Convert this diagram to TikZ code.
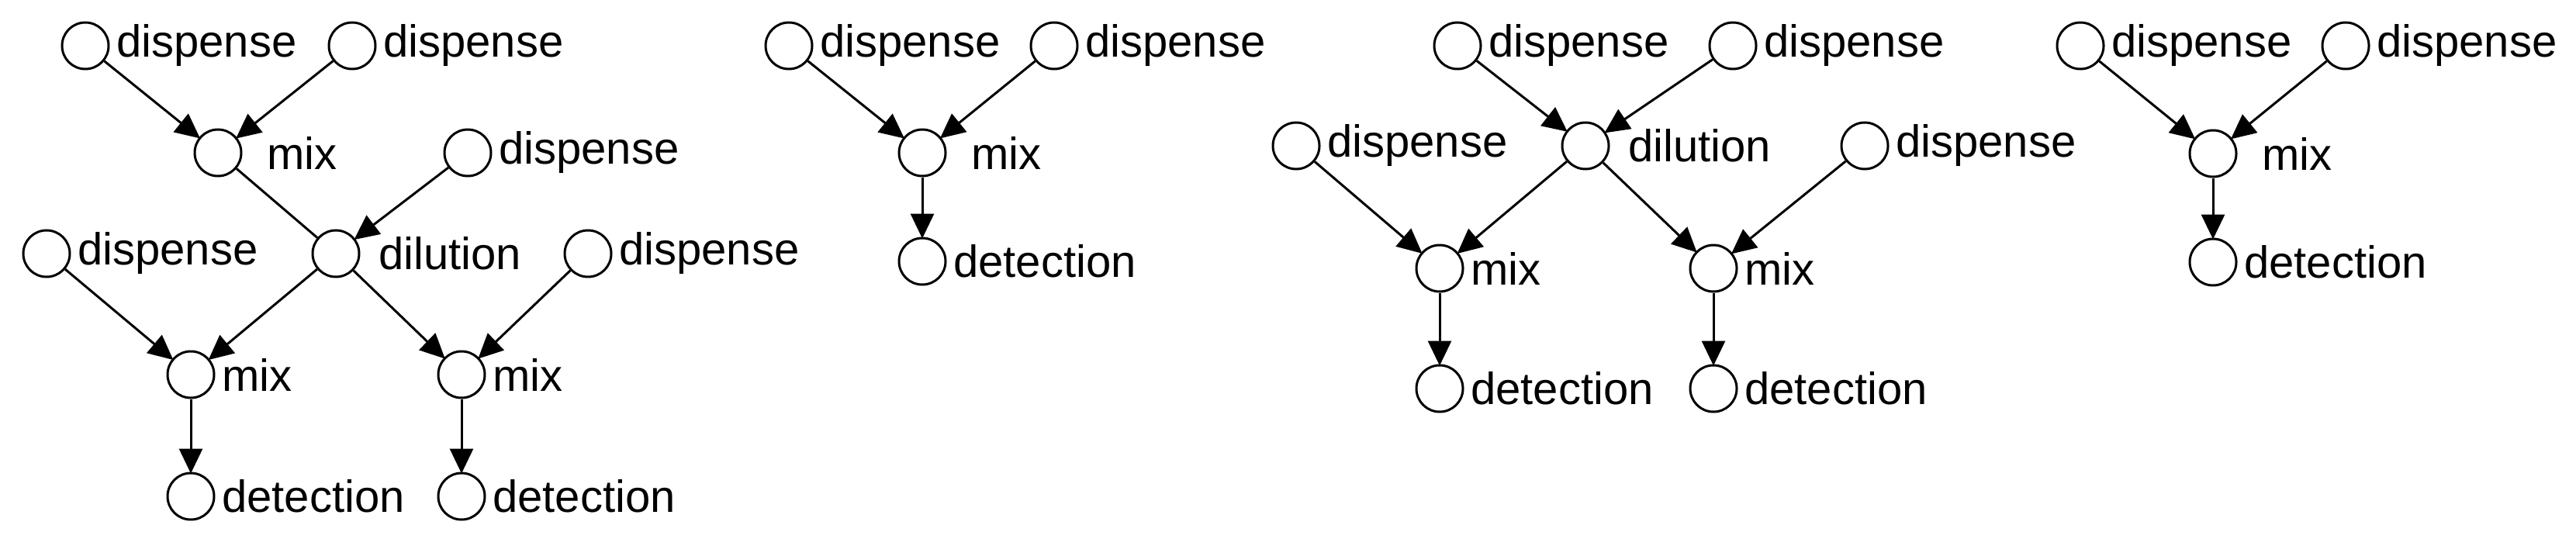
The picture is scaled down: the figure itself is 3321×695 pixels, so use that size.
\documentclass[tikz,border=0pt]{standalone}
\usepackage{fontspec}
\setmainfont{Liberation Sans}
\usetikzlibrary{arrows.meta}
\begin{document}
\begin{tikzpicture}[x=1pt,y=-1pt,
  op/.style={circle,draw,line width=3pt,minimum size=60pt,inner sep=0pt},
  lab/.style={anchor=west,inner sep=0pt,font=\fontsize{58}{60}\selectfont},
  e/.style={-{Triangle[length=32pt,width=30pt]},line width=3pt,shorten >=-2pt}]
\useasboundingbox (0,0) rectangle (3321,695);
\newcommand{\op}[4]{\node[op] (#1) at (#2) {}; \node[lab] (#1t) at ([xshift=#4pt]#1.center) {#3};}
% graph 1
\op{a1}{110,59}{dispense}{40}
\op{a2}{454,59}{dispense}{40}
\op{a3}{281,197}{mix}{63}
\op{a4}{603,197}{dispense}{40}
\op{a5}{433,327}{dilution}{55}
\op{a6}{60,327}{dispense}{40}
\op{a7}{758,327}{dispense}{40}
\op{a8}{246,483}{mix}{40}
\op{a9}{595,483}{mix}{40}
\op{a10}{246,640}{detection}{40}
\op{a11}{595,640}{detection}{40}
\draw[e] (a1)--(a3); \draw[e] (a2)--(a3);
\draw[line width=3pt] (a3)--(a5); \draw[e] (a4)--(a5);
\draw[e] (a6)--(a8); \draw[e] (a5)--(a8);
\draw[e] (a5)--(a9); \draw[e] (a7)--(a9);
\draw[e] (a8)--(a10); \draw[e] (a9)--(a11);
% graph 2
\op{b1}{1017,59}{dispense}{40}
\op{b2}{1359,59}{dispense}{40}
\op{b3}{1189,197}{mix}{63}
\op{b4}{1189,337}{detection}{40}
\draw[e] (b1)--(b3); \draw[e] (b2)--(b3); \draw[e] (b3)--(b4);
% graph 3
\op{c1}{1879,59}{dispense}{40}
\op{c2}{2234,59}{dispense}{40}
\op{c3}{2044,188}{dilution}{55}
\op{c4}{1671,188}{dispense}{40}
\op{c5}{2404,188}{dispense}{40}
\op{c6}{1856,346}{mix}{40}
\op{c7}{2209,346}{mix}{40}
\op{c8}{1856,501}{detection}{40}
\op{c9}{2209,501}{detection}{40}
\draw[e] (c1)--(c3); \draw[e] (c2)--(c3);
\draw[e] (c4)--(c6); \draw[e] (c3)--(c6);
\draw[e] (c3)--(c7); \draw[e] (c5)--(c7);
\draw[e] (c6)--(c8); \draw[e] (c7)--(c9);
% graph 4
\op{d1}{2682,59}{dispense}{40}
\op{d2}{3024,59}{dispense}{40}
\op{d3}{2853,198}{mix}{63}
\op{d4}{2853,338}{detection}{40}
\draw[e] (d1)--(d3); \draw[e] (d2)--(d3); \draw[e] (d3)--(d4);
\end{tikzpicture}
\end{document}
